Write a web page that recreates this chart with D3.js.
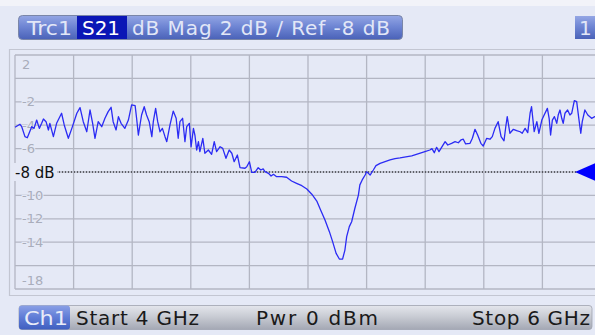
<!DOCTYPE html>
<html>
<head>
<meta charset="utf-8">
<script src="https://cdn.jsdelivr.net/npm/d3@7"></script>
<style>
  html, body { margin: 0; padding: 0; background: #e5e9f6; }
  svg { display: block; font-family: "DejaVu Sans", sans-serif; }
</style>
</head>
<body>
<svg id="chart" width="595" height="335"></svg>
<script>
// S21 magnitude sweep, 4 GHz .. 6 GHz
const freqMHz = [
  4000,4017,4023,4034,4042,4057,4065,4074,4083,4091,
  4097,4106,4114,4119,4131,4142,4159,4168,4182,4194,
  4211,4222,4233,4245,4256,4265,4273,4284,4296,4307,
  4318,4328,4335,4345,4353,4362,4375,4387,4398,4410,
  4415,4421,4432,4441,4449,4458,4467,4472,4480,4487,
  4495,4503,4512,4518,4529,4540,4550,4557,4563,4572,
  4580,4586,4595,4601,4609,4614,4620,4626,4631,4641,
  4648,4660,4671,4680,4688,4700,4709,4720,4731,4740,
  4748,4759,4768,4785,4791,4800,4808,4819,4830,4839,
  4847,4853,4865,4874,4882,4893,4910,4927,4944,4961,
  4979,4996,5013,5030,5043,5058,5073,5084,5096,5107,
  5118,5126,5132,5141,5149,5160,5172,5177,5185,5195,
  5200,5212,5223,5232,5246,5263,5280,5297,5314,5354,
  5399,5416,5423,5431,5439,5447,5456,5468,5477,5490,
  5502,5513,5522,5530,5538,5553,5561,5570,5579,5590,
  5598,5610,5621,5629,5638,5649,5659,5669,5675,5680,
  5689,5701,5712,5724,5731,5741,5750,5758,5763,5772,
  5781,5788,5798,5806,5817,5823,5828,5834,5841,5849,
  5854,5860,5866,5871,5877,5886,5894,5900,5909,5917,
  5925,5931,5936,5945,5955,5968,5979,6000
];
const s21dB = [
  -4.18,-3.92,-4.13,-4.98,-5.07,-4.13,-4.27,-3.56,-4.27,-3.84,
  -3.47,-3.70,-4.41,-3.84,-4.98,-3.84,-2.98,-3.98,-5.12,-4.27,
  -2.98,-2.50,-3.70,-4.56,-2.70,-3.84,-5.12,-3.70,-4.13,-3.41,
  -2.84,-2.47,-3.70,-4.41,-3.27,-3.84,-4.27,-3.56,-2.27,-2.33,
  -3.41,-4.84,-3.13,-2.42,-3.13,-3.70,-4.98,-3.70,-2.56,-3.70,
  -4.56,-4.27,-4.98,-5.41,-3.98,-2.79,-3.41,-5.12,-3.70,-3.41,
  -5.41,-4.13,-3.84,-5.84,-4.27,-4.84,-6.12,-5.41,-6.26,-5.12,
  -6.40,-6.12,-6.49,-5.41,-6.26,-5.84,-5.98,-6.83,-6.12,-6.40,
  -7.12,-6.55,-7.63,-7.68,-7.55,-7.12,-8.03,-8.03,-7.63,-7.83,
  -7.74,-7.97,-8.11,-8.34,-8.20,-8.40,-8.40,-8.45,-8.77,-8.97,
  -9.17,-9.45,-9.90,-10.48,-11.25,-12.10,-13.10,-13.95,-14.95,-15.44,
  -15.44,-14.67,-13.53,-12.67,-12.25,-11.10,-9.97,-9.10,-8.68,-8.26,
  -7.97,-8.26,-7.83,-7.46,-7.26,-7.12,-6.97,-6.85,-6.80,-6.62,
  -6.26,-6.12,-6.00,-6.35,-5.89,-6.26,-5.89,-5.41,-5.69,-5.55,
  -5.41,-5.50,-5.26,-5.20,-5.60,-5.55,-5.12,-4.35,-4.84,-5.55,
  -5.78,-5.12,-5.20,-4.98,-4.27,-3.70,-4.98,-5.33,-4.13,-3.27,
  -4.69,-4.35,-4.47,-4.56,-4.69,-4.27,-4.64,-2.98,-2.42,-4.55,
  -3.70,-4.69,-3.56,-3.13,-2.56,-3.41,-4.84,-3.56,-3.27,-3.84,
  -3.13,-2.70,-3.41,-3.84,-2.98,-2.70,-3.13,-2.98,-1.90,-1.99,
  -3.56,-4.69,-3.70,-2.70,-3.13,-3.41,-3.27,-3.10
];

// Sweep / display settings
const startMHz = 4000, stopMHz = 6000, divX = 10;
const refLevel = -8, scaleDiv = 2, divY = 10;
const yTickLabels = [2, -2, -4, -6, -10, -12, -14, -18];
const refLabel = "-8 dB";

// Status strings
const traceName = "Trc1", paramName = "S21", traceInfo = "dB Mag 2 dB / Ref -8 dB";
const chanName = "Ch1", startText = "Start 4 GHz", pwrText = "Pwr 0 dBm", stopText = "Stop 6 GHz";
const chanTag = "1";

const svg = d3.select("#chart");
const W = 595, H = 335;
const plot = { left: 15, top: 55, right: 601, bottom: 289 };

const yTop = refLevel + scaleDiv * divY / 2, yBot = refLevel - scaleDiv * divY / 2;
const x = d3.scaleLinear().domain([startMHz, stopMHz]).range([plot.left, plot.right]);
const y = d3.scaleLinear().domain([yBot, yTop]).range([plot.bottom, plot.top]);

const defs = svg.append("defs");
function grad(id, stops) {
  const g = defs.append("linearGradient").attr("id", id)
    .attr("x1", 0).attr("y1", 0).attr("x2", 0).attr("y2", 1);
  stops.forEach(([o, c]) => g.append("stop").attr("offset", o).attr("stop-color", c));
}
grad("blueBar", [[0, "#94a6e4"], [0.45, "#6f86d4"], [1, "#4a62b8"]]);
grad("grayBar", [[0, "#e4e6ec"], [0.45, "#c9ccd4"], [1, "#a4a8b4"]]);
grad("chBox", [[0, "#8aa0e6"], [0.5, "#5f7cd6"], [1, "#3f5fc0"]]);

// background
svg.append("rect").attr("width", W).attr("height", H).attr("fill", "#e5e9f6");
svg.append("rect").attr("width", W).attr("height", 6).attr("fill", "#f2f3f9");

// outer frame
svg.append("path")
  .attr("d", `M${W},49.5 H9.5 V295.5 H${W}`)
  .attr("fill", "none").attr("stroke", "#c3c6d2").attr("stroke-width", 1.2);

// grid
const g = svg.append("g");
const xTicks = d3.range(divX + 1).map(i => startMHz + i * (stopMHz - startMHz) / divX);
const yTicks = d3.range(divY + 1).map(i => yBot + i * scaleDiv);
g.selectAll("line.vx").data(xTicks).join("line")
  .attr("x1", d => x(d)).attr("x2", d => x(d))
  .attr("y1", plot.top).attr("y2", plot.bottom)
  .attr("stroke", "#b3b6c3").attr("stroke-width", 1.3);
g.selectAll("line.hy").data(yTicks).join("line")
  .attr("x1", plot.left).attr("x2", plot.right)
  .attr("y1", d => y(d)).attr("y2", d => y(d))
  .attr("stroke", "#b3b6c3").attr("stroke-width", 1.3);

// y labels
g.selectAll("text.yl").data(yTickLabels).join("text")
  .attr("x", 22)
  .attr("y", d => d === yTop ? y(d) + 14 : d === yBot ? y(d) - 4 : y(d) + 4.6)
  .attr("font-size", 13).attr("fill", "#a9adbb")
  .attr("stroke", "#e5e9f6").attr("stroke-width", 2).attr("paint-order", "stroke")
  .text(d => d);

// reference line
svg.append("line")
  .attr("x1", 59).attr("x2", 578)
  .attr("y1", y(refLevel)).attr("y2", y(refLevel))
  .attr("stroke", "#000").attr("stroke-width", 1).attr("stroke-dasharray", "1,2");
svg.append("rect").attr("x", 12).attr("y", y(refLevel) - 9).attr("width", 45).attr("height", 18)
  .attr("fill", "#e5e9f6");
svg.append("text").attr("x", 15).attr("y", y(refLevel) + 5.5)
  .attr("font-size", 15).attr("fill", "#111").text(refLabel);

// trace
const line = d3.line().x((d, i) => x(freqMHz[i])).y(d => y(d));
svg.append("path").datum(s21dB)
  .attr("d", line)
  .attr("fill", "none").attr("stroke", "#2b2bf4").attr("stroke-width", 1.3)
  .attr("stroke-linejoin", "round");

// reference level marker
const ry = y(refLevel);
svg.append("path")
  .attr("d", `M575,${ry} L598,${ry - 10} L598,${ry + 10} Z`)
  .attr("fill", "#0000ff");

// header bar
svg.append("rect").attr("x", 18.5).attr("y", 15.5).attr("width", 384).attr("height", 24).attr("rx", 4)
  .attr("fill", "url(#blueBar)").attr("stroke", "#7a86a8").attr("stroke-width", 1);
svg.append("rect").attr("x", 77).attr("y", 16).attr("width", 50).attr("height", 23)
  .attr("fill", "#0a16b6");
svg.append("text").attr("x", 27).attr("y", 35).attr("font-size", 20).attr("fill", "#e2e7f7")
  .attr("textLength", 45).attr("lengthAdjust", "spacingAndGlyphs").text(traceName);
svg.append("text").attr("x", 82).attr("y", 35).attr("font-size", 20).attr("fill", "#ffffff")
  .attr("textLength", 38).attr("lengthAdjust", "spacingAndGlyphs").text(paramName);
svg.append("text").attr("x", 132).attr("y", 35).attr("font-size", 20).attr("fill", "#e2e7f7")
  .attr("textLength", 258).attr("lengthAdjust", "spacing").text(traceInfo);

// channel tag at top right
svg.append("rect").attr("x", 575).attr("y", 16).attr("width", 30).attr("height", 23)
  .attr("fill", "url(#blueBar)");
svg.append("text").attr("x", 579).attr("y", 35).attr("font-size", 20).attr("fill", "#e2e7f7").text(chanTag);

// bottom status bar
svg.append("rect").attr("x", 19).attr("y", 305.5).attr("width", 573).attr("height", 24).attr("rx", 3)
  .attr("fill", "url(#grayBar)").attr("stroke", "#9ea2ae").attr("stroke-width", 0.8);
svg.append("rect").attr("x", 19).attr("y", 305.5).attr("width", 51).attr("height", 24).attr("rx", 3)
  .attr("fill", "url(#chBox)");
svg.append("text").attr("x", 24).attr("y", 325).attr("font-size", 20).attr("fill", "#e8ecf8")
  .attr("textLength", 44).attr("lengthAdjust", "spacingAndGlyphs").text(chanName);
[[startText, 76, 123], [pwrText, 256, 122], [stopText, 472, 118]].forEach(([t, tx, tw]) => {
  svg.append("text").attr("x", tx).attr("y", 325).attr("font-size", 20).attr("fill", "#1a1a1a")
    .attr("textLength", tw).attr("lengthAdjust", "spacing").text(t);
});
</script>
</body>
</html>
